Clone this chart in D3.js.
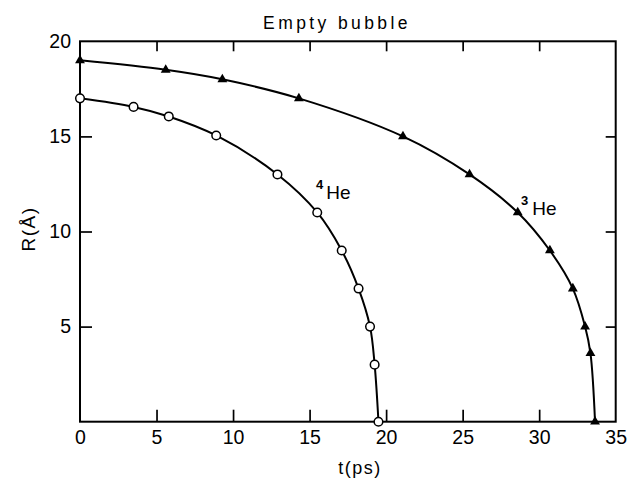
<!DOCTYPE html>
<html>
<head>
<meta charset="utf-8">
<script src="https://cdn.jsdelivr.net/npm/d3@7"></script>
<style>
  body { margin: 0; background: #fff; }
  svg { display: block; }
  text { font-family: "Liberation Sans", Arial, sans-serif; fill: #000; }
</style>
</head>
<body>
<svg id="chart" width="632" height="478"></svg>
<script>
// Data
const he4T = [0, 3.5, 5.8, 8.9, 12.9, 15.5, 17.1, 18.2, 18.95, 19.25, 19.5];
const he4R = [17, 16.55, 16.05, 15.05, 13, 11, 9, 7, 5, 3, 0];
const he3T = [0, 5.6, 9.3, 14.3, 21.1, 25.45, 28.6, 30.7, 32.2, 33.0, 33.35, 33.65];
const he3R = [19, 18.5, 18, 17, 15, 13, 11, 9, 7, 5, 3.6, 0];
const xTicks = [0, 5, 10, 15, 20, 25, 30, 35];
const yTicks = [5, 10, 15, 20];
const innerTicksX = [5, 10, 15, 20, 25, 30];
const innerTicksY = [5, 10, 15];

const svg = d3.select("#chart");
const x = d3.scaleLinear().domain([0, 35]).range([80, 615.7]);
const y = d3.scaleLinear().domain([0, 20]).range([421.7, 41.3]);

// Frame
svg.append("rect")
  .attr("x", x(0)).attr("y", y(20))
  .attr("width", x(35) - x(0)).attr("height", y(0) - y(20))
  .attr("fill", "none").attr("stroke", "#000").attr("stroke-width", 2);

function styleAxis(g) {
  g.select(".domain").remove();
  g.selectAll(".tick line").attr("stroke", "#000").attr("stroke-width", 1.7);
  g.selectAll(".tick text").style("font-size", "19.5px").attr("fill", "#000");
}

svg.append("g").attr("transform", `translate(0,${y(0)})`)
  .call(d3.axisBottom(x).tickValues(xTicks).tickSize(-12).tickPadding(8).tickFormat(d3.format("d")))
  .call(styleAxis)
  .call(g => g.selectAll(".tick").filter(d => d === 0 || d === 35).select("line").remove());

svg.append("g").attr("transform", `translate(${x(0)},0)`)
  .call(d3.axisLeft(y).tickValues(yTicks).tickSize(-12).tickPadding(9).tickFormat(d3.format("d")))
  .call(styleAxis)
  .call(g => g.selectAll(".tick").filter(d => d === 20).select("line").remove());

svg.append("g").attr("transform", `translate(0,${y(20)})`)
  .call(d3.axisTop(x).tickValues(innerTicksX).tickSize(-10).tickFormat(""))
  .call(styleAxis);

svg.append("g").attr("transform", `translate(${x(35)},0)`)
  .call(d3.axisRight(y).tickValues(innerTicksY).tickSize(-10).tickFormat(""))
  .call(styleAxis);

// Lines
const line = d3.line().x(d => x(d[0])).y(d => y(d[1])).curve(d3.curveCatmullRom.alpha(0.5));
const he4 = he4T.map((t, i) => [t, he4R[i]]);
const he3 = he3T.map((t, i) => [t, he3R[i]]);

svg.append("path").datum(he4).attr("d", line)
  .attr("fill", "none").attr("stroke", "#000").attr("stroke-width", 2);
svg.append("path").datum(he3).attr("d", line)
  .attr("fill", "none").attr("stroke", "#000").attr("stroke-width", 2);

svg.selectAll("circle.he4").data(he4).enter().append("circle")
  .attr("class", "he4")
  .attr("cx", d => x(d[0])).attr("cy", d => y(d[1])).attr("r", 4.3)
  .attr("fill", "#fff").attr("stroke", "#000").attr("stroke-width", 1.5);

svg.selectAll("path.he3").data(he3).enter().append("path")
  .attr("class", "he3")
  .attr("transform", d => `translate(${x(d[0])},${y(d[1])})`)
  .attr("d", d3.symbol().type(d3.symbolTriangle).size(42))
  .attr("fill", "#000");

// Labels
const lab4 = svg.append("text").attr("x", 316).attr("y", 199).style("font-size", "19px");
lab4.append("tspan").text("4").style("font-size", "13px").style("font-weight", "bold").attr("dy", -10);
lab4.append("tspan").text("He").attr("dx", 3).attr("dy", 10);

const lab3 = svg.append("text").attr("x", 521).attr("y", 215).style("font-size", "19px");
lab3.append("tspan").text("3").style("font-size", "13px").style("font-weight", "bold").attr("dy", -10);
lab3.append("tspan").text("He").attr("dx", 4).attr("dy", 10);

svg.append("text").attr("x", 337).attr("y", 29)
  .attr("text-anchor", "middle").style("font-size", "17.5px").style("letter-spacing", "3.4px")
  .text("Empty bubble");

svg.append("text").attr("x", 360).attr("y", 474)
  .attr("text-anchor", "middle").style("font-size", "18px").style("letter-spacing", "1.5px")
  .text("t(ps)");

svg.append("text")
  .attr("transform", "translate(35,229) rotate(-90)")
  .attr("text-anchor", "middle").style("font-size", "19px").style("letter-spacing", "1.5px")
  .text("R(Å)");
</script>
</body>
</html>
